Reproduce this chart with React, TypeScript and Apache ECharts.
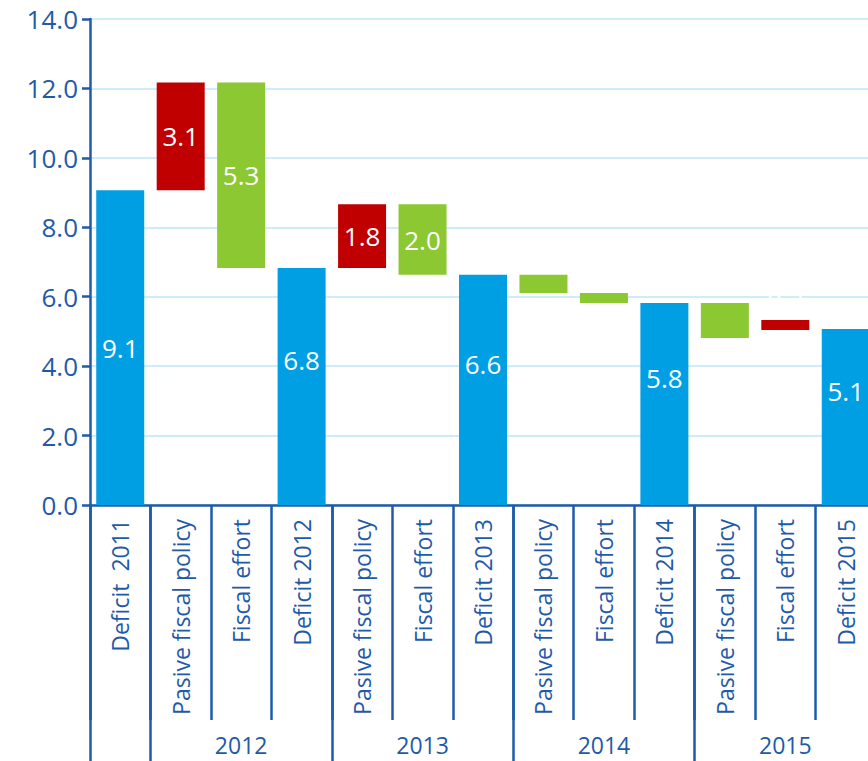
import React, { useEffect, useRef } from "react";
import * as echarts from "echarts";

const categories = [
  "Deficit  2011",
  "Pasive fiscal policy",
  "Fiscal effort",
  "Deficit 2012",
  "Pasive fiscal policy",
  "Fiscal effort",
  "Deficit 2013",
  "Pasive fiscal policy",
  "Fiscal effort",
  "Deficit 2014",
  "Pasive fiscal policy",
  "Fiscal effort",
  "Deficit 2015",
];
// bottom and top of each floating bar (percent)
const barLows = [0, 9.07, 6.83, 0, 6.83, 6.63, 0, 6.11, 5.82, 0, 4.81, 5.04, 0];
const barHighs = [9.07, 12.17, 12.17, 6.83, 8.66, 8.66, 6.63, 6.63, 6.11, 5.82, 5.82, 5.33, 5.07];
const barKinds = ["total", "up", "down", "total", "up", "down", "total", "down", "down", "total", "down", "up", "total"];
const groupLabels = ["2012", "2013", "2014", "2015"];
const groupStarts = [1, 4, 7, 10];
const yTicks = [0, 2, 4, 6, 8, 10, 12, 14];

const BLUE = "#009FE3";
const RED = "#C00000";
const GREEN = "#8BC832";
const INK = "#1F5AA8";
const FONT = "Open Sans";

export default function App() {
  const ref = useRef<HTMLDivElement>(null);
  useEffect(() => {
    if (!ref.current) return;
    const chart = echarts.init(ref.current, null, { renderer: "svg" });
    const colorOf = (k: string) => (k === "total" ? BLUE : k === "up" ? RED : GREEN);
    const visible = barHighs.map((h, i) => {
      const v = +(h - barLows[i]).toFixed(2);
      const kind = barKinds[i];
      const small = v < 1.2 && kind !== "total";
      const item: any = {
        value: v,
        itemStyle: { color: colorOf(kind) },
      };
      if (kind === "total" && i > 0) item.label = { offset: [0, -26] };
      if (small) item.label = kind === "up" ? { position: "top", distance: 6 } : { show: false };
      return item;
    });
    const tickBoundaries = [0, ...groupStarts];
    const groupMids = groupStarts.map((s) => s + 1);
    chart.setOption({
      animation: false,
      grid: { left: 90, top: 19, width: 786, height: 486, containLabel: false },
      xAxis: [
        {
          type: "category",
          data: categories,
          position: "bottom",
          axisLine: { show: true, lineStyle: { color: INK, width: 2.5 } },
          axisTick: { show: true, interval: 0, length: 215, lineStyle: { color: INK, width: 2.5 } },
          axisLabel: {
            interval: 0,
            rotate: 90,
            color: INK,
            fontSize: 23,
            fontFamily: FONT,
            margin: 14,
          },
          splitLine: { show: false },
        },
        {
          type: "category",
          data: categories,
          position: "bottom",
          offset: 0,
          axisLine: { show: false },
          axisTick: {
            show: true,
            interval: (i: number) => tickBoundaries.includes(i),
            length: 256,
            lineStyle: { color: INK, width: 2.5 },
          },
          axisLabel: {
            interval: (i: number) => groupMids.includes(i),
            formatter: (_v: string, i: number) => {
              const g = groupMids.indexOf(i);
              return g >= 0 ? groupLabels[g] : "";
            },
            color: INK,
            fontSize: 23,
            lineHeight: 18,
            fontFamily: FONT,
            margin: 231,
          },
          splitLine: { show: false },
        },
      ],
      yAxis: {
        type: "value",
        min: yTicks[0],
        max: yTicks[yTicks.length - 1],
        interval: 2,
        axisLine: { show: true, lineStyle: { color: INK, width: 2.5 } },
        axisTick: { show: true, length: 8, lineStyle: { color: INK, width: 2.5 } },
        axisLabel: {
          color: INK,
          fontSize: 26,
          fontFamily: FONT,
          margin: 12,
          formatter: (v: number) => v.toFixed(1),
        },
        splitLine: { show: true, lineStyle: { color: "#BFE6F8", width: 1.5 } },
      },
      series: [
        {
          type: "bar",
          stack: "w",
          data: barLows,
          barWidth: 48,
          itemStyle: { color: "transparent" },
          silent: true,
          label: { show: false },
        },
        {
          type: "bar",
          stack: "w",
          data: visible,
          barWidth: 48,
          label: {
            show: true,
            position: "inside",
            color: "#FFFFFF",
            fontSize: 26,
            fontFamily: FONT,
            formatter: (p: any) => Number(p.value).toFixed(1),
          },
        },
      ],
    });
    return () => chart.dispose();
  }, []);
  return (
    <div
      style={{
        position: "fixed",
        left: 0,
        top: 0,
        width: 868,
        height: 761,
        overflow: "hidden",
        background: "#fff",
      }}
    >
      <div ref={ref} style={{ width: 880, height: 761 }} />
    </div>
  );
}
